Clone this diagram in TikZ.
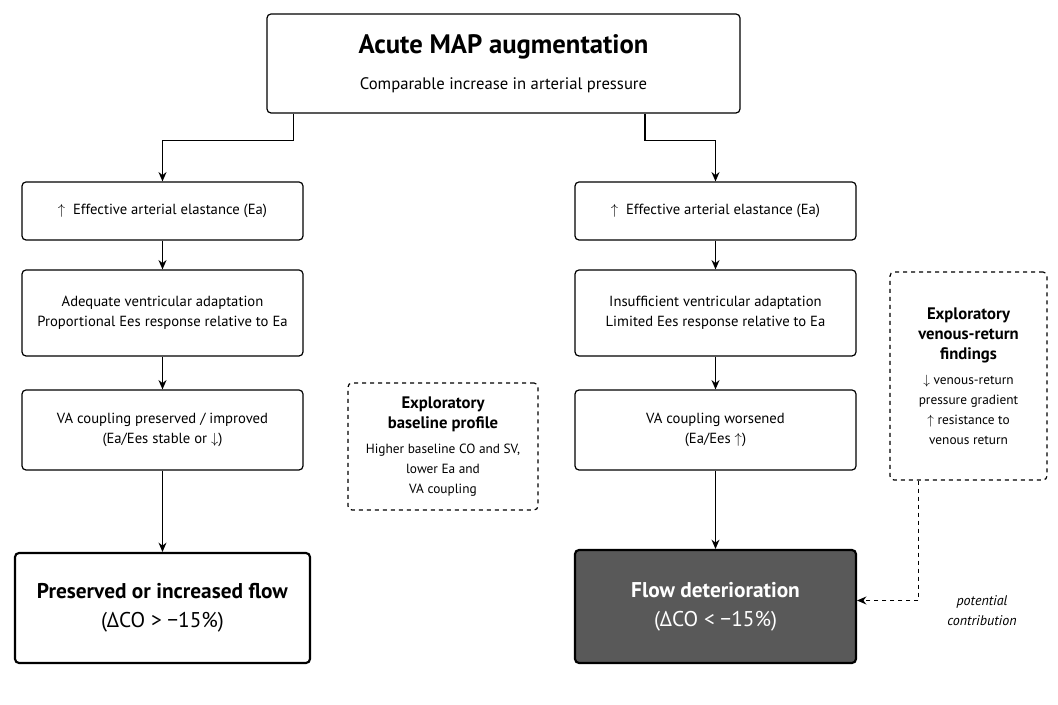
\documentclass[tikz,border=0pt]{standalone}
\usepackage{fontspec}
\setmainfont{PT Sans}
\usetikzlibrary{arrows.meta}
\newcommand{\hd}{\fontsize{12.5}{15}\selectfont\bfseries}
\newcommand{\bd}{\fontsize{10}{13.5}\selectfont\mdseries}
\begin{document}
\begin{tikzpicture}[x=0.75pt,y=-0.75pt,
  box/.style={draw,rounded corners=3pt,line width=0.9pt,align=center,inner sep=0pt,font=\fontsize{11}{15}\selectfont},
  dbox/.style={box,dashed},
  arr/.style={-{Stealth[length=7pt,width=6pt]},line width=0.9pt}]
\useasboundingbox[fill=white] (0,0) rectangle (1058,705);
\node[box,minimum width=473*0.75pt,minimum height=99*0.75pt] (top) at (503.5,63.5) {};
\node (t1) at (503.5,47) {\fontsize{20}{24}\selectfont\bfseries Acute MAP augmentation};
\node (t2) at (503.5,85) {\fontsize{12.5}{15}\selectfont Comparable increase in arterial pressure};
% left column
\node[box,minimum width=281*0.75pt,minimum height=58*0.75pt] (l1) at (162.5,211) {$\uparrow$\ \ Effective arterial elastance (Ea)};
\node[box,minimum width=281*0.75pt,minimum height=86*0.75pt] (l2) at (162.5,313) {Adequate ventricular adaptation\\Proportional Ees response relative to Ea};
\node[box,minimum width=281*0.75pt,minimum height=80*0.75pt] (l3) at (162.5,430) {VA coupling preserved / improved\\(Ea/Ees stable or $\downarrow$)};
\node[box,line width=1.6pt,minimum width=295*0.75pt,minimum height=110*0.75pt,font=\fontsize{16}{22}\selectfont] (l4) at (162.5,608) {\textbf{Preserved or increased flow}\\(ΔCO > −15\%)};
% right column
\node[box,minimum width=281*0.75pt,minimum height=58*0.75pt] (r1) at (715.5,211) {$\uparrow$\ \ Effective arterial elastance (Ea)};
\node[box,minimum width=281*0.75pt,minimum height=86*0.75pt] (r2) at (715.5,313) {Insufficient ventricular adaptation\\Limited Ees response relative to Ea};
\node[box,minimum width=281*0.75pt,minimum height=80*0.75pt] (r3) at (715.5,430) {VA coupling worsened\\(Ea/Ees $\uparrow$)};
\node[box,line width=1.6pt,fill=black!65,text=white,minimum width=281*0.75pt,minimum height=113*0.75pt,font=\fontsize{16}{22}\selectfont] (r4) at (715.5,606.5) {\textbf{Flow deterioration}\\(ΔCO < −15\%)};
% dashed boxes
\node[dbox,minimum width=190*0.75pt,minimum height=127*0.75pt,font=\hd] (mid) at (443,446.5) {Exploratory\\baseline profile\\[4pt]\bd Higher baseline CO and SV,\\\bd lower Ea and\\\bd VA coupling};
\node[dbox,minimum width=157*0.75pt,minimum height=208*0.75pt,font=\hd] (ven) at (968.5,376) {Exploratory\\venous-return\\findings\\[4pt]\bd $\downarrow$ venous-return\\\bd pressure gradient\\\bd $\uparrow$ resistance to\\\bd venous return};
\node[font=\itshape\fontsize{10.5}{15}\selectfont,align=center] (pc) at (982,611) {potential\\contribution};
% connectors
\draw[arr] ([xshift=-210*0.75pt]top.south) -- ++(0,27) -| (l1.north);
\draw[arr] ([xshift=141.5*0.75pt]top.south) -- ++(0,27) -| (r1.north);
\draw[arr] (l1) -- (l2); \draw[arr] (l2) -- (l3); \draw[arr] (l3) -- (l4);
\draw[arr] (r1) -- (r2); \draw[arr] (r2) -- (r3); \draw[arr] (r3) -- (r4);
\coordinate (vb) at ([xshift=-50*0.75pt]ven.south);
\draw[arr,dashed] (vb) |- ([yshift=6*0.75pt]r4.east);
\end{tikzpicture}
\end{document}
